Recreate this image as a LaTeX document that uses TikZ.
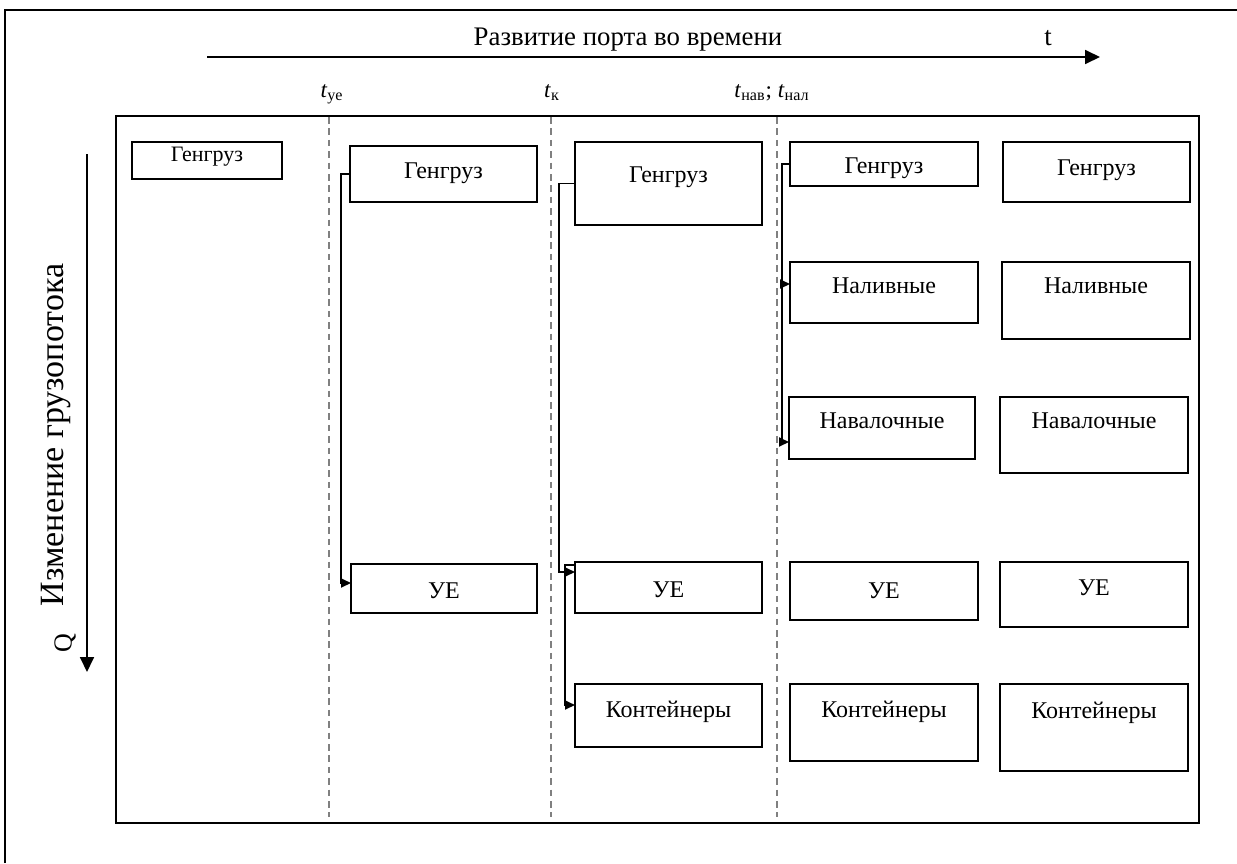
\documentclass[tikz,border=0pt]{standalone}
\usepackage{fontspec}
\setmainfont{Liberation Serif}
\usetikzlibrary{arrows.meta}
\tikzset{every picture/.style={x=0.5pt,y=-0.5pt}}
\tikzset{box/.style={draw,line width=1pt,inner sep=0pt,outer sep=0pt,anchor=north west,minimum width=94pt,font=\fontsize{12}{14}\selectfont}}
\tikzset{link/.style={line width=0.9pt,-{Triangle[length=5pt,width=4.5pt]}}}
\tikzset{axis/.style={line width=0.9pt,-{Triangle[length=7.5pt,width=7pt]}}}
\tikzset{epoch/.style={gray,line width=0.8pt,dash pattern=on 3.3pt off 2.4pt}}
\tikzset{tlabel/.style={anchor=base,font=\fontsize{11.5}{13}\selectfont}}

\begin{document}
\begin{tikzpicture}
\useasboundingbox (0,0) rectangle (1237,863);
\draw [line width=1pt] (5,863) -- (5,10) -- (1237,10);
\draw [line width=1pt] (116,116) rectangle (1199,823);

\coordinate (t0) at (207,57);
\coordinate (t1) at (1100,57);
\draw [axis] (t0) -- (t1);
\node [anchor=base,font=\fontsize{13.4}{15}\selectfont] (title) at (628,45) {Развитие порта во времени};
\node [anchor=base,font=\fontsize{13.4}{15}\selectfont] (tt) at (1048,45) {t};

\coordinate (q0) at (87,154);
\coordinate (q1) at (87,672);
\draw [axis] (q0) -- (q1);
\node [rotate=90,font=\fontsize{17}{19}\selectfont] (flow) at (56,435) {Изменение грузопотока};
\node [rotate=90,font=\fontsize{13}{15}\selectfont] (qq) at (65,643) {Q};

\draw [epoch] (329,117) -- (329,817);
\draw [epoch] (551,117) -- (551,817);
\draw [epoch] (777,117) -- (777,817);
\node [tlabel] (tue) at (332,97) {\textit{t}\textsubscript{уе}};
\node [tlabel] (tk) at (552,97) {\textit{t}\textsubscript{к}};
\node [tlabel] (tnn) at (772,97) {\textit{t}\textsubscript{нав}; \textit{t}\textsubscript{нал}};

\node [box,minimum width=75pt,text height=9.5pt,text depth=9pt,font=\fontsize{11}{13}\selectfont] (c0) at (132,142) {Генгруз};

\node [box,minimum width=93.5pt,text height=16pt,text depth=12pt] (c1a) at (350,146) {Генгруз};
\node [box,minimum width=93pt,text height=17pt,text depth=7.5pt] (c1b) at (351,564) {УЕ};

\node [box,minimum width=93.5pt,text height=20pt,text depth=21.5pt] (c2a) at (575,142) {Генгруз};
\node [box,minimum width=93.5pt,text height=17.5pt,text depth=8pt] (c2b) at (575,562) {УЕ};
\node [box,minimum width=93.5pt,text height=16.5pt,text depth=15pt] (c2c) at (575,684) {Контейнеры};

\node [box,text height=15.5pt,text depth=6.5pt] (c3a) at (790,142) {Генгруз};
\node [box,text height=15.5pt,text depth=15pt] (c3b) at (790,262) {Наливные};
\node [box,minimum width=93pt,text height=15.5pt,text depth=15.5pt] (c3c) at (789,397) {Навалочные};
\node [box,text height=18pt,text depth=11pt] (c3d) at (790,562) {УЕ};
\node [box,text height=16.5pt,text depth=22pt] (c3e) at (790,684) {Контейнеры};

\node [box,minimum width=93.5pt,text height=16.5pt,text depth=13.5pt] (c4a) at (1003,142) {Генгруз};
\node [box,text height=15.5pt,text depth=23pt] (c4b) at (1002,262) {Наливные};
\node [box,text height=15.5pt,text depth=22.5pt] (c4c) at (1000,397) {Навалочные};
\node [box,text height=16.5pt,text depth=16pt] (c4d) at (1000,562) {УЕ};
\node [box,text height=17pt,text depth=26.5pt] (c4e) at (1000,684) {Контейнеры};

\draw [link] (c1a.west) -- ++(-9,0) |- ([yshift=2.75pt]c1b.west);
\draw [link] (c2a.west) -- ++(-16,0) |- ([yshift=7.75pt]c2b.west);
\draw [link] ([yshift=11.25pt]c2b.west) -- ++(-10,0) |- ([yshift=5.25pt]c2c.west);
\draw [link] (c3a.west) -- ++(-8,0) |- ([yshift=-7pt]c3c.west);
\draw [link] (c3a.west) ++(-8,0) |- ([yshift=4.25pt]c3b.west);
\end{tikzpicture}
\end{document}
